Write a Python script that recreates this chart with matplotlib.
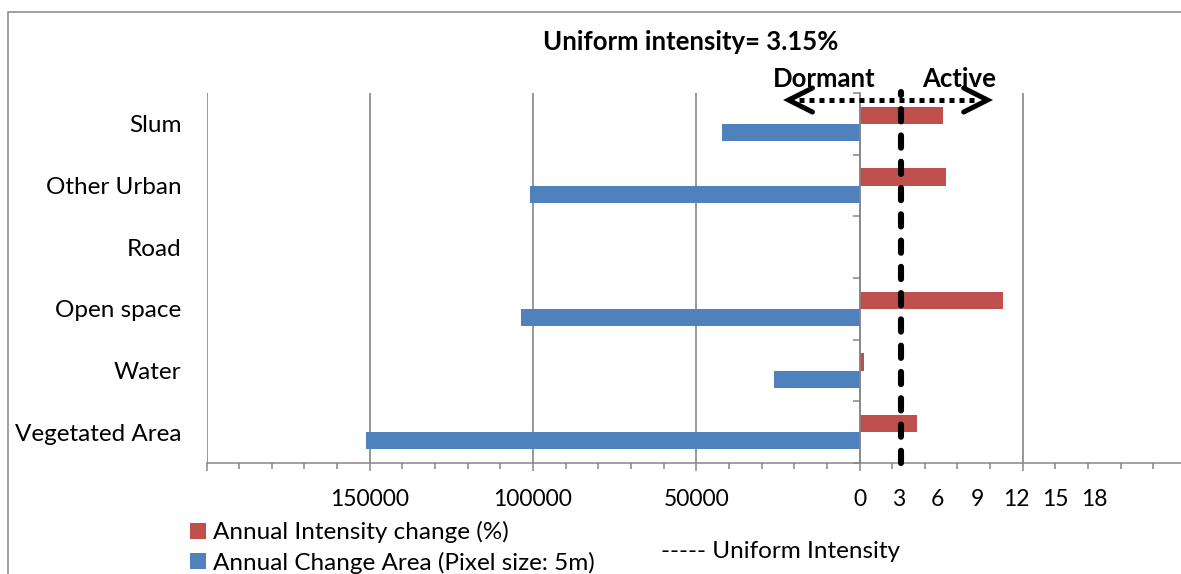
import numpy as np
import matplotlib
matplotlib.use("Agg")
import matplotlib.pyplot as plt
import matplotlib.transforms as mtransforms
from matplotlib.patches import Rectangle

plt.rcParams['font.family'] = ['Lato', 'DejaVu Sans']

# land-cover classes, bottom to top
categories = ['Vegetated Area', 'Water', 'Open space', 'Road', 'Other Urban', 'Slum']
change_area = [151000, 26300, 103800, 0, 100800, 42200]   # pixels per year
intensity = [4.42, 0.38, 11.0, 0, 6.66, 6.38]             # % per year
uniform_intensity = 3.15
intensity_ticks = [0, 3, 6, 9, 12, 15, 18]
area_ticks = [-200000, -150000, -100000, -50000, 0, 50000, 100000]
area_labels = ['', '150000', '100000', '50000', '', '', '']

SCALE = 4000  # intensity units -> area units on the shared axis
RED = '#C0504D'
BLUE = '#4F81BD'
GRID = '#868686'
FS_TICK = 16.5
FS = 17.5
FS_BOLD = 18.5

fig = plt.figure(figsize=(11.81, 5.74), dpi=100)
ax = fig.add_axes([206.5 / 1181, 1 - 463 / 574, (1186 - 206.5) / 1181, 370 / 574])

y = np.arange(len(categories))
h = 0.28
b_int = ax.barh(y + h / 2, np.array(intensity) * SCALE, height=h, color=RED, zorder=3)
b_area = ax.barh(y - h / 2, -np.array(change_area), height=h, color=BLUE, zorder=3)

ax.set_xlim(-200000, 100000)
ax.set_ylim(-0.5, len(categories) - 0.5)

for s in ['top', 'right']:
    ax.spines[s].set_visible(False)
ax.spines['bottom'].set_color(GRID)
ax.spines['bottom'].set_linewidth(1.1)
ax.spines['left'].set_position(('data', 0))
ax.spines['left'].set_color(GRID)
ax.spines['left'].set_linewidth(1.1)
ax.spines['left'].set_zorder(4)

ax.set_xticks(area_ticks)
ax.set_xticklabels(area_labels)
ax.set_xticks(np.arange(-200000, 100001, 10000), minor=True)
ax.tick_params(axis='x', which='major', length=6, width=1.1, color=GRID,
               labelsize=FS_TICK, pad=13)
ax.tick_params(axis='x', which='minor', length=4.3, width=1.1, color=GRID)
ax.grid(axis='x', which='major', color=GRID, linewidth=1.2, zorder=0)

ax.set_yticks(np.arange(-0.5, len(categories), 1.0))
ax.set_yticklabels([])
ax.tick_params(axis='y', length=5, width=1.1, color=GRID)

# category names sit at the far left, not at the zero axis
lbl_tr = mtransforms.blended_transform_factory(ax.transAxes, ax.transData)
for yi, name in zip(y, categories):
    ax.text(-0.0255, yi - 0.03, name, transform=lbl_tr, ha='right', va='center',
            fontsize=FS)

# intensity scale on the right half
sec = ax.secondary_xaxis('bottom', functions=(lambda x: x / SCALE, lambda x: x * SCALE))
sec.set_xticks(intensity_ticks)
sec.tick_params(length=0, labelsize=FS_TICK, pad=19)
sec.spines['bottom'].set_visible(False)

# uniform intensity line
ax.plot([uniform_intensity * SCALE] * 2, [-0.5, 5.52], color='black', lw=4.4,
        dashes=(2, 2.3), dash_capstyle='round', zorder=5, clip_on=False)

# dormant / active arrow
ya = 5.386
ax.plot([-18500, 36000], [ya, ya], color='black', lw=3.6, dashes=(1, 1),
        zorder=6, clip_on=False)
for tip, back in [(-21700, -14400), (39200, 31900)]:
    ax.plot([back, tip, back], [ya + 0.195, ya, ya - 0.195], color='black', lw=3.6,
            solid_capstyle='round', solid_joinstyle='miter', zorder=6, clip_on=False)
ax.text(-10900, 5.735, 'Dormant', ha='center', va='center', fontsize=FS_BOLD,
        fontweight='bold')
ax.text(30500, 5.735, 'Active', ha='center', va='center', fontsize=FS_BOLD,
        fontweight='bold')

fig.text(691 / 1181, 1 - 42 / 574, 'Uniform intensity= 3.15%', ha='center',
         va='center', fontsize=FS_BOLD, fontweight='bold')

fig.legend([b_int, b_area],
           ['Annual Intensity change (%)', 'Annual Change Area (Pixel size: 5m)'],
           loc='upper left', bbox_to_anchor=(190 / 1181, 1 - 521 / 574),
           frameon=False, fontsize=FS, handlelength=0.64, handleheight=0.64,
           handletextpad=0.3, labelspacing=0.36, borderpad=0, borderaxespad=0)
fig.text(661 / 1181, 1 - 552 / 574, '----- Uniform Intensity', ha='left',
         va='center', fontsize=FS)

# chart border
fig.add_artist(Rectangle((8 / 1181, -0.1), 1.2, 1 - 12 / 574 + 0.1,
                         transform=fig.transFigure, fill=False,
                         edgecolor=GRID, linewidth=1.1))

fig.savefig('out.png', dpi=100)
